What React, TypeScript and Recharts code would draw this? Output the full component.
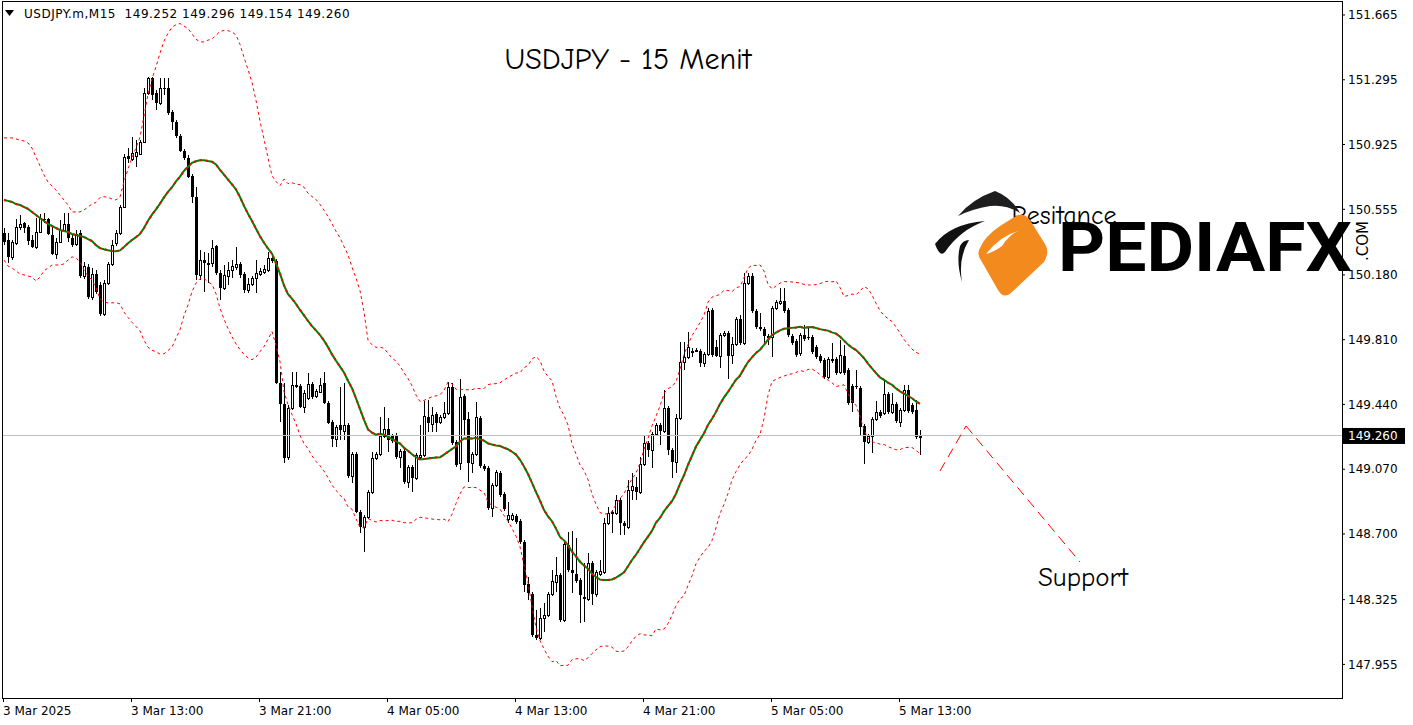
import React from 'react';
import { ComposedChart, Bar, Line, XAxis, YAxis, ReferenceLine } from 'recharts';

// ---------- data (USDJPY M15) ----------
const opens = [
  150.420,150.380,150.283,150.363,150.454,150.477,150.454,150.380,150.340,150.425,
  150.500,150.500,150.408,150.300,150.368,150.437,150.471,150.391,150.357,150.420,
  150.174,150.225,150.054,150.185,150.123,149.957,150.134,150.243,150.363,150.420,
  150.568,150.860,150.843,150.860,150.871,150.940,151.220,151.305,151.220,151.163,
  151.248,151.248,151.111,151.054,150.974,150.888,150.848,150.746,150.625,150.180,
  150.265,150.248,150.248,150.346,150.191,150.106,150.174,150.208,150.225,150.243,
  150.185,150.094,150.128,150.163,150.185,150.197,150.208,150.277,150.260,149.563,
  149.443,149.140,149.420,149.551,149.545,149.425,149.477,149.557,149.488,149.511,
  149.563,149.448,149.340,149.243,149.323,149.288,149.323,149.031,149.157,148.826,
  148.740,148.797,148.940,149.134,149.157,149.260,149.300,149.260,149.265,149.140,
  149.174,148.997,149.083,149.020,149.140,149.151,149.368,149.328,149.385,149.340,
  149.368,149.391,149.540,149.225,149.106,149.488,149.357,149.106,149.157,149.363,
  149.088,149.077,148.848,148.980,149.048,148.928,148.785,148.785,148.803,148.774,
  148.654,148.414,148.357,148.123,148.105,148.220,148.237,148.357,148.425,148.465,
  148.208,148.637,148.494,148.471,148.437,148.340,148.328,148.534,148.357,148.471,
  148.483,148.763,148.820,148.820,148.894,148.763,148.740,148.951,148.968,148.940,
  149.100,149.220,149.180,149.271,149.323,149.288,149.420,149.180,149.111,149.363,
  149.683,149.711,149.745,149.751,149.745,149.677,149.728,149.980,149.768,149.717,
  149.837,149.848,149.723,149.785,149.928,149.791,150.134,150.174,149.974,149.883,
  149.871,149.831,149.825,149.991,150.020,150.031,149.980,149.831,149.803,149.734,
  149.837,149.825,149.825,149.768,149.717,149.694,149.597,149.700,149.700,149.625,
  149.717,149.637,149.545,149.545,149.534,149.317,149.225,149.260,149.357,149.397,
  149.391,149.500,149.397,149.443,149.340,149.408,149.523,149.437,149.408,149.252,
];
const highs = [
  150.448,150.420,150.380,150.500,150.522,150.483,150.465,150.408,150.505,150.528,
  150.534,150.505,150.454,150.391,150.494,150.534,150.534,150.408,150.437,150.437,
  150.254,150.243,150.220,150.208,150.140,150.151,150.254,150.380,150.437,150.580,
  150.871,150.905,150.968,150.951,150.951,151.248,151.311,151.311,151.237,151.305,
  151.305,151.305,151.122,151.065,150.985,150.900,150.865,150.757,150.683,150.323,
  150.311,150.306,150.380,150.351,150.208,150.237,150.254,150.265,150.340,150.254,
  150.197,150.163,150.174,150.265,150.220,150.237,150.311,150.306,150.271,149.625,
  149.563,149.437,149.625,149.625,149.557,149.523,149.620,149.568,149.528,149.591,
  149.625,149.460,149.351,149.323,149.540,149.563,149.334,149.168,149.168,148.837,
  148.808,148.951,149.168,149.168,149.368,149.425,149.363,149.271,149.277,149.185,
  149.185,149.094,149.094,149.163,149.323,149.460,149.465,149.425,149.397,149.380,
  149.454,149.568,149.563,149.237,149.585,149.500,149.397,149.168,149.454,149.374,
  149.100,149.088,148.991,149.065,149.060,148.940,148.883,148.820,148.814,148.785,
  148.665,148.454,148.368,148.265,148.277,148.305,148.368,148.494,148.568,148.477,
  148.654,148.711,148.717,148.677,148.448,148.534,148.591,148.545,148.494,148.551,
  148.791,148.854,148.837,148.923,148.905,148.774,149.008,149.048,149.025,149.140,
  149.265,149.231,149.283,149.334,149.334,149.523,149.431,149.191,149.385,149.797,
  149.797,149.854,149.763,149.763,149.757,149.740,149.991,149.991,149.808,149.848,
  149.860,149.860,149.825,149.940,149.951,150.191,150.191,150.191,149.985,149.963,
  149.883,149.843,150.003,150.037,150.106,150.106,149.991,149.843,149.814,149.848,
  149.894,149.883,149.837,149.780,149.728,149.705,149.711,149.791,149.711,149.808,
  149.780,149.648,149.557,149.637,149.545,149.328,149.271,149.368,149.460,149.408,
  149.574,149.511,149.505,149.454,149.420,149.551,149.551,149.448,149.465,149.296,
];
const lows = [
  150.351,150.248,150.265,150.351,150.437,150.420,150.351,150.334,150.328,150.420,
  150.477,150.408,150.294,150.271,150.363,150.431,150.368,150.340,150.346,150.163,
  150.157,150.043,150.037,150.071,149.945,149.945,150.123,150.231,150.346,150.408,
  150.563,150.820,150.831,150.797,150.865,150.934,151.208,151.180,151.122,151.151,
  151.208,151.094,151.008,150.963,150.883,150.837,150.734,150.591,150.151,150.151,
  150.083,150.134,150.225,150.180,150.037,150.094,150.123,150.163,150.208,150.163,
  150.077,150.077,150.117,150.077,150.174,150.185,150.197,150.248,149.557,149.340,
  149.106,149.123,149.408,149.534,149.420,149.391,149.465,149.471,149.477,149.505,
  149.443,149.329,149.197,149.197,149.237,149.237,149.020,148.991,148.820,148.706,
  148.597,148.785,148.928,149.123,149.145,149.248,149.168,149.220,149.128,149.077,
  148.986,148.963,148.940,149.008,149.128,149.140,149.283,149.283,149.283,149.328,
  149.357,149.380,149.208,149.083,149.065,149.265,148.997,149.048,149.145,149.077,
  149.060,148.837,148.797,148.968,148.911,148.831,148.763,148.774,148.757,148.643,
  148.368,148.323,148.111,148.094,148.094,148.140,148.225,148.345,148.368,148.197,
  148.197,148.483,148.363,148.420,148.191,148.197,148.317,148.294,148.340,148.460,
  148.471,148.751,148.705,148.808,148.694,148.694,148.728,148.894,148.894,148.928,
  149.088,149.140,149.077,149.260,149.208,149.277,149.151,149.020,149.048,149.351,
  149.637,149.700,149.711,149.740,149.654,149.654,149.717,149.711,149.711,149.648,
  149.825,149.585,149.671,149.774,149.780,149.780,150.123,149.963,149.871,149.860,
  149.791,149.780,149.711,149.980,150.008,149.963,149.825,149.780,149.711,149.717,
  149.803,149.808,149.728,149.700,149.677,149.585,149.585,149.677,149.608,149.614,
  149.608,149.437,149.397,149.528,149.260,149.100,149.214,149.163,149.345,149.363,
  149.380,149.385,149.385,149.334,149.311,149.397,149.391,149.385,149.243,149.154,
];
const closes = [
  150.368,150.283,150.368,150.454,150.471,150.448,150.374,150.340,150.425,150.505,
  150.494,150.414,150.300,150.368,150.437,150.471,150.391,150.351,150.414,150.174,
  150.231,150.054,150.185,150.083,149.957,150.134,150.243,150.351,150.420,150.568,
  150.854,150.843,150.877,150.883,150.940,151.220,151.305,151.208,151.163,151.248,
  151.242,151.105,151.054,150.974,150.888,150.848,150.740,150.625,150.180,150.265,
  150.248,150.237,150.334,150.191,150.106,150.180,150.208,150.231,150.243,150.180,
  150.094,150.128,150.163,150.191,150.203,150.214,150.277,150.260,149.563,149.443,
  149.134,149.420,149.551,149.540,149.425,149.505,149.557,149.483,149.517,149.551,
  149.448,149.334,149.243,149.311,149.294,149.323,149.031,149.157,148.826,148.740,
  148.797,148.940,149.134,149.157,149.260,149.300,149.237,149.231,149.140,149.174,
  148.997,149.083,149.020,149.151,149.151,149.374,149.334,149.380,149.334,149.368,
  149.391,149.540,149.220,149.094,149.483,149.351,149.106,149.157,149.368,149.088,
  149.071,148.848,148.980,149.054,148.923,148.843,148.808,148.808,148.768,148.654,
  148.408,148.363,148.123,148.105,148.220,148.237,148.357,148.431,148.465,148.208,
  148.643,148.494,148.477,148.431,148.351,148.328,148.534,148.357,148.483,148.488,
  148.763,148.820,148.825,148.894,148.763,148.745,148.951,148.974,148.940,149.100,
  149.220,149.180,149.271,149.323,149.288,149.420,149.180,149.111,149.363,149.683,
  149.711,149.768,149.745,149.751,149.677,149.728,149.974,149.723,149.717,149.837,
  149.848,149.717,149.785,149.928,149.791,150.134,150.174,149.974,149.883,149.871,
  149.831,149.820,149.991,150.025,150.031,149.974,149.837,149.791,149.723,149.837,
  149.814,149.820,149.740,149.711,149.688,149.597,149.700,149.688,149.620,149.723,
  149.620,149.448,149.448,149.540,149.311,149.225,149.260,149.357,149.397,149.374,
  149.500,149.397,149.443,149.345,149.408,149.523,149.403,149.397,149.254,149.260,
];

// Bollinger band values of the first bars (their history is off-screen)
const upperEarly = [150.963,150.963,150.963,150.957,150.951,150.945,150.934,150.905,150.854,150.803,150.751,150.711,150.688,150.665,150.637,150.608,150.580,150.540,150.540,150.540,150.551,150.568,150.585];
const midEarly = [150.608,150.603,150.597,150.585,150.580,150.568,150.557,150.540,150.522,150.505,150.488,150.471,150.460,150.448,150.437,150.431,150.425,150.414,150.408,150.402,150.397,150.385,150.374];
const lowerEarly = [150.265,150.231,150.220,150.203,150.185,150.180,150.174,150.168,150.145,150.168,150.203,150.220,150.237,150.237,150.237,150.243,150.265,150.283,150.277,150.254,150.208,150.174,150.151];

const timeTickIndex = [0, 32, 64, 96, 128, 160, 192, 224];
const timeTickLabels = ['3 Mar 2025', '3 Mar 13:00', '3 Mar 21:00', '4 Mar 05:00', '4 Mar 13:00', '4 Mar 21:00', '5 Mar 05:00', '5 Mar 13:00'];
const priceTicks = [151.665, 151.295, 150.925, 150.555, 150.18, 149.81, 149.44, 149.07, 148.7, 148.325, 147.955];
const lastPrice = 149.26;
const headerText = 'USDJPY.m,M15  149.252 149.296 149.154 149.260';

// hand-drawn trend lines (bar index, price)
const trendLeg1 = [{ t: 234, p: 149.06 }, { t: 240.5, p: 149.317 }];
const trendLeg2 = [{ t: 240.5, p: 149.317 }, { t: 269, p: 148.54 }];

const PERIOD = 24;
const DEV = 2;
const SLOTS = 335;
const Y_MIN = 147.763;
const Y_MAX = 151.745;
const AXIS_FONT = "'DejaVu Sans', sans-serif";
const HAND_FONT = "'Comic Sans MS', 'Comic Neue', 'Noto Sans', sans-serif";

function buildRows() {
  const rows: any[] = [];
  for (let i = 0; i < SLOTS; i++) {
    if (i < closes.length) {
      let upper, mid, lower;
      if (i < PERIOD - 1) {
        upper = upperEarly[i];
        mid = midEarly[i];
        lower = lowerEarly[i];
      } else {
        const win = closes.slice(i - PERIOD + 1, i + 1);
        const m = win.reduce((a, b) => a + b, 0) / PERIOD;
        const sd = Math.sqrt(win.reduce((a, b) => a + (b - m) * (b - m), 0) / PERIOD);
        upper = m + DEV * sd;
        mid = m;
        lower = m - DEV * sd;
      }
      rows.push({
        i,
        open: opens[i],
        high: highs[i],
        low: lows[i],
        close: closes[i],
        range: [lows[i], highs[i]],
        upper,
        mid,
        lower,
      });
    } else {
      rows.push({ i });
    }
  }
  return rows;
}

const rows = buildRows();

const Candle = (props: any) => {
  const { x, y, width, height, payload } = props;
  if (!payload || payload.open == null || x == null) return null;
  const { open, close, high, low } = payload;
  const top = Math.min(y, y + height);
  const h = Math.abs(height);
  const k = high === low ? 0 : h / (high - low);
  const yO = top + (high - open) * k;
  const yC = top + (high - close) * k;
  const bTop = Math.round(Math.min(yO, yC));
  const bBot = Math.round(Math.max(yO, yC));
  const cx = Math.floor(x + width / 2);
  const bull = close >= open;
  return (
    <g>
      <line x1={cx + 0.5} x2={cx + 0.5} y1={Math.round(top)} y2={Math.round(top + h)} stroke="#000" strokeWidth={1} shapeRendering="crispEdges" />
      {bull ? (
        <rect x={cx - 0.5} y={bTop + 0.5} width={2} height={Math.max(bBot - bTop, 1)} fill="#fff" stroke="#000" strokeWidth={1} shapeRendering="crispEdges" />
      ) : (
        <rect x={cx - 1} y={bTop} width={3} height={Math.max(bBot - bTop, 1)} fill="#000" shapeRendering="crispEdges" />
      )}
    </g>
  );
};

const TimeTick = (props: any) => {
  const { x, y, payload } = props;
  const idx = timeTickIndex.indexOf(payload.value);
  if (idx < 0) return null;
  return (
    <g>
      <line x1={x - 0.5} x2={x - 0.5} y1={y} y2={y + 4} stroke="#000" strokeWidth={1} shapeRendering="crispEdges" />
      <text x={x - 1} y={y + 17} textAnchor="start" fontSize={12} fontFamily={AXIS_FONT} fill="#000">
        {timeTickLabels[idx]}
      </text>
    </g>
  );
};

const PriceLabel = (props: any) => {
  const vb = props.viewBox || {};
  const yc = vb.y;
  const xr = vb.x + vb.width;
  return (
    <g>
      <rect x={xr + 1} y={yc - 8} width={62} height={16} fill="#000" />
      <text x={xr + 6} y={yc + 4.5} fontSize={12} fontFamily={AXIS_FONT} fill="#fff">
        {lastPrice.toFixed(3)}
      </text>
    </g>
  );
};

const Logo = () => (
  <svg width={1413} height={725} style={{ position: 'absolute', left: 0, top: 0, pointerEvents: 'none' }}>
    {/* dark top wedge */}
    <path d="M958 216 Q972 199 995 191 Q1011 197 1020 213 Q1006 204 990 206 Q972 209 958 216 Z" fill="#1e1e1e" />
    {/* dark left swoosh */}
    <path d="M935 244 Q950 224 985 221 Q960 230 945 252 Q940 258 935 244 Z" fill="#111" />
    <path d="M969 240 Q958 258 962 282 Q956 262 960 246 Q963 240 969 240 Z" fill="#111" />
    {/* orange body */}
    <path d="M980 248 Q985 236 1000 226 L1016 216 Q1024 212 1030 220 L1045 244 Q1050 252 1044 262 L1012 292 Q1004 300 998 290 L982 262 Q976 254 980 248 Z" fill="#f28a1e" />
    {/* white swoosh cut */}
    <path d="M986 254 Q1000 236 1018 231 Q1010 234 1002 246 Q994 252 986 254 Z" fill="#fff" />
    <text x={1058} y={271} fontFamily="Roboto, 'Open Sans', sans-serif" fontWeight={700} fontSize={68} textLength={294} lengthAdjust="spacingAndGlyphs" fill="#000">
      PEDIAFX
    </text>
    <text x={0} y={0} transform="translate(1368 261) rotate(-90)" fontFamily={AXIS_FONT} fontSize={15} fill="#000">
      .COM
    </text>
  </svg>
);

const textBase: React.CSSProperties = { position: 'absolute', whiteSpace: 'pre', color: '#000', lineHeight: 1 };

export default function App() {
  return (
    <div style={{ position: 'absolute', left: 0, top: 0, width: 1413, height: 725, background: '#fff', overflow: 'hidden' }}>
      <ComposedChart width={1413} height={725} data={rows} margin={{ top: 1, right: 0, bottom: 0, left: 2 }}>
        <XAxis
          dataKey="i"
          type="category"
          ticks={timeTickIndex}
          interval={0}
          height={27}
          axisLine={false}
          tickLine={false}
          tickSize={0}
          tickMargin={0}
          tick={<TimeTick />}
        />
        <XAxis xAxisId="num" dataKey="i" type="number" domain={[-0.5, SLOTS - 0.5]} allowDataOverflow hide />
        <YAxis
          orientation="right"
          width={71}
          type="number"
          domain={[Y_MIN, Y_MAX]}
          allowDataOverflow
          ticks={priceTicks}
          interval={0}
          tickFormatter={(v: number) => v.toFixed(3)}
          axisLine={false}
          tickLine={{ stroke: '#000' }}
          tickSize={3}
          tickMargin={3}
          tick={{ fontSize: 12, fontFamily: AXIS_FONT, fill: '#000' }}
        />
        <ReferenceLine y={lastPrice} stroke="#c0c0c0" strokeWidth={1} shapeRendering="crispEdges" label={<PriceLabel />} />
        <Bar dataKey="range" barSize={3} shape={<Candle />} isAnimationActive={false} />
        <Line dataKey="upper" type="linear" stroke="#ff0000" strokeWidth={1} strokeDasharray="3 3" dot={false} activeDot={false} isAnimationActive={false} />
        <Line dataKey="lower" type="linear" stroke="#ff0000" strokeWidth={1} strokeDasharray="3 3" dot={false} activeDot={false} isAnimationActive={false} />
        <Line dataKey="mid" type="linear" stroke="#008000" strokeWidth={2} dot={false} activeDot={false} isAnimationActive={false} />
        <Line dataKey="mid" type="linear" stroke="#ff0000" strokeWidth={2} strokeDasharray="2 4" dot={false} activeDot={false} isAnimationActive={false} />
        <ReferenceLine
          xAxisId="num"
          segment={[{ x: trendLeg1[0].t, y: trendLeg1[0].p }, { x: trendLeg1[1].t, y: trendLeg1[1].p }]}
          stroke="#ff0000"
          strokeWidth={1}
          strokeDasharray="10 6"
        />
        <ReferenceLine
          xAxisId="num"
          segment={[{ x: trendLeg2[0].t, y: trendLeg2[0].p }, { x: trendLeg2[1].t, y: trendLeg2[1].p }]}
          stroke="#ff0000"
          strokeWidth={1}
          strokeDasharray="10 6"
        />
      </ComposedChart>

      {/* plot frame */}
      <div style={{ position: 'absolute', left: 2, top: 1, width: 1341, height: 698, border: '1px solid #000', boxSizing: 'border-box', pointerEvents: 'none' }} />

      {/* header */}
      <svg width={10} height={8} style={{ position: 'absolute', left: 5, top: 10 }}>
        <polygon points="0,0 9,0 4.5,6" fill="#000" />
      </svg>
      <div style={{ ...textBase, left: 24, top: 8, fontSize: 12, letterSpacing: '0.5px', fontFamily: AXIS_FONT }}>{headerText}</div>

      {/* title */}
      <div style={{ ...textBase, left: 628, top: 60, transform: 'translate(-50%, -50%)', fontSize: 30, fontFamily: HAND_FONT }}>
        USDJPY - 15 Menit
      </div>

      {/* annotations */}
      <div style={{ ...textBase, left: 1064, top: 216, transform: 'translate(-50%, -50%)', fontSize: 26, fontFamily: HAND_FONT }}>
        Resitance
      </div>
      <Logo />
      <div style={{ ...textBase, left: 1083, top: 577, transform: 'translate(-50%, -50%)', fontSize: 27, fontFamily: HAND_FONT }}>
        Support
      </div>
    </div>
  );
}
